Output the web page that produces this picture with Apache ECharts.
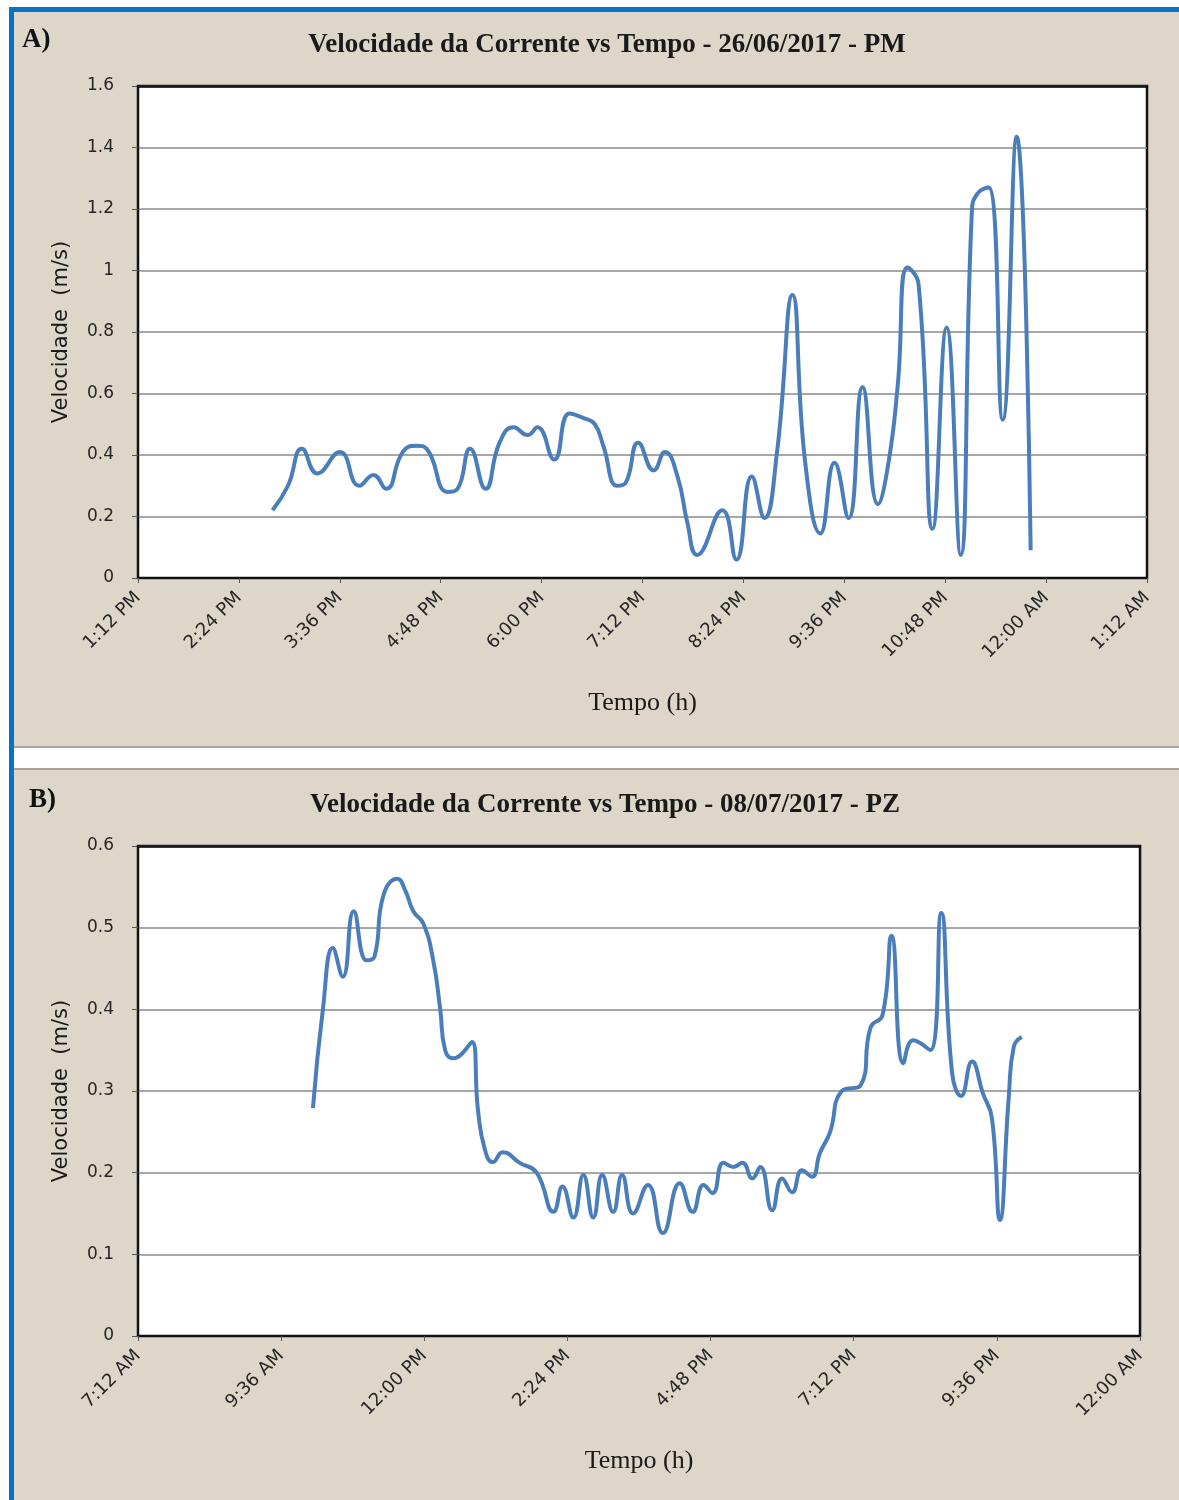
<!DOCTYPE html>
<html>
<head>
<meta charset="utf-8">
<script src="https://cdn.jsdelivr.net/npm/echarts@6/dist/echarts.min.js"></script>
<style>
  html, body { margin: 0; padding: 0; background: #ffffff; }
  #wrap { position: relative; width: 1179px; height: 1500px; overflow: hidden; }
  .bg { position: absolute; }
  #chart { position: absolute; left: 0; top: 0; width: 1179px; height: 1500px; }
</style>
</head>
<body>
<div id="wrap">
  <div class="bg" style="left:14px;top:12px;width:1165px;height:734px;background:#ddd6c9;border-bottom:2px solid #a9a49b;"></div>
  <div class="bg" style="left:14px;top:768px;width:1165px;height:732px;background:#ddd6c9;border-top:2px solid #a9a49b;"></div>
  <div class="bg" style="left:9px;top:7px;width:5px;height:1493px;background:#0a72c4;"></div>
  <div class="bg" style="left:9px;top:7px;width:1170px;height:5px;background:#0a72c4;"></div>
  <div id="chart"></div>
</div>
<script>
// ---- Data (time in minutes since midnight of the start day; speed in m/s) ----
const timesA = [888, 899, 909, 920, 936, 950, 960, 969, 981, 991, 998, 1013, 1020, 1029, 1040, 1050, 1060, 1070, 1077, 1089, 1100, 1110, 1118, 1124, 1134, 1140, 1149, 1160, 1168, 1177, 1184, 1191, 1209, 1219, 1230, 1239, 1248, 1259, 1268, 1279, 1289, 1299, 1309, 1320, 1327, 1334, 1341, 1349, 1359, 1369, 1379, 1387, 1391, 1399, 1409, 1419, 1429];
const speedsA = [0.22, 0.30, 0.42, 0.34, 0.41, 0.30, 0.335, 0.29, 0.41, 0.43, 0.42, 0.28, 0.29, 0.42, 0.29, 0.44, 0.49, 0.465, 0.49, 0.385, 0.535, 0.52, 0.50, 0.43, 0.30, 0.31, 0.44, 0.35, 0.41, 0.33, 0.18, 0.075, 0.22, 0.06, 0.33, 0.195, 0.41, 0.92, 0.38, 0.145, 0.375, 0.195, 0.62, 0.24, 0.36, 0.62, 1.01, 0.955, 0.16, 0.815, 0.075, 1.19, 1.25, 1.27, 0.515, 1.435, 0.09];

const timesB = [608, 618, 628, 638, 649, 662, 670, 679, 693, 701, 709, 719, 729, 736, 741, 749, 768, 774, 781, 789, 799, 816, 833, 850, 859, 870, 880, 890, 899, 910, 919, 930, 945, 960, 977, 990, 1001, 1010, 1021, 1031, 1040, 1050, 1058, 1070, 1080, 1090, 1100, 1110, 1118, 1128, 1140, 1159, 1169, 1181, 1190, 1202, 1212, 1229, 1240, 1251, 1260, 1271, 1282, 1291, 1299, 1308, 1313, 1321];
const speedsB = [0.279, 0.40, 0.475, 0.44, 0.52, 0.46, 0.465, 0.54, 0.56, 0.545, 0.52, 0.505, 0.46, 0.40, 0.35, 0.34, 0.36, 0.277, 0.228, 0.213, 0.225, 0.212, 0.20, 0.152, 0.183, 0.145, 0.197, 0.145, 0.197, 0.152, 0.197, 0.15, 0.185, 0.126, 0.187, 0.152, 0.185, 0.175, 0.212, 0.207, 0.212, 0.193, 0.207, 0.154, 0.193, 0.176, 0.203, 0.195, 0.224, 0.249, 0.30, 0.307, 0.378, 0.393, 0.49, 0.334, 0.362, 0.35, 0.518, 0.322, 0.294, 0.336, 0.297, 0.267, 0.142, 0.293, 0.354, 0.366];

const tickLabelsA = ['1:12 PM', '2:24 PM', '3:36 PM', '4:48 PM', '6:00 PM', '7:12 PM', '8:24 PM', '9:36 PM', '10:48 PM', '12:00 AM', '1:12 AM'];
const tickLabelsB = ['7:12 AM', '9:36 AM', '12:00 PM', '2:24 PM', '4:48 PM', '7:12 PM', '9:36 PM', '12:00 AM'];

const titleA = 'Velocidade da Corrente vs Tempo - 26/06/2017 - PM';
const titleB = 'Velocidade da Corrente vs Tempo - 08/07/2017 - PZ';
const yName = 'Velocidade  (m/s)';
const xName = 'Tempo (h)';

// ---- Chart ----
const xMinA = 792, xMaxA = 1512, xIntA = 72;
const xMinB = 432, xMaxB = 1440, xIntB = 144;

const chart = echarts.init(document.getElementById('chart'), null, { renderer: 'canvas' });

const serif = '"Liberation Serif", "Times New Roman", serif';
const sans = '"DejaVu Sans", Verdana, sans-serif';
const lineColor = '#4a7ebb';
const labelColor = '#262626';

function xAxisCfg(gridIndex, min, max, interval, labels) {
  return {
    type: 'value', gridIndex, min, max, interval,
    name: xName, nameLocation: 'middle', nameGap: 112,
    nameTextStyle: { fontFamily: serif, fontSize: 26, color: '#1a1a1a' },
    axisLine: { show: true, lineStyle: { color: '#111', width: 2 } },
    axisTick: { show: true, length: 5, lineStyle: { color: '#555', width: 1 } },
    splitLine: { show: false },
    axisLabel: {
      rotate: 45, margin: 17, fontFamily: sans, fontSize: 18, color: labelColor,
      formatter: v => labels[Math.round((v - min) / interval)]
    }
  };
}
function xTopCfg(gridIndex, min, max) {
  return {
    type: 'value', gridIndex, min, max, position: 'top', z: 5,
    axisLine: { show: true, lineStyle: { color: '#111', width: 2.5 } },
    axisTick: { show: false }, axisLabel: { show: false }, splitLine: { show: false }
  };
}
function yAxisCfg(gridIndex, max, interval) {
  return {
    type: 'value', gridIndex, min: 0, max, interval,
    name: yName, nameLocation: 'middle', nameGap: 66, nameRotate: 90,
    nameTextStyle: { fontFamily: sans, fontSize: 21, color: '#1a1a1a' },
    axisLine: { show: true, lineStyle: { color: '#111', width: 2 } },
    axisTick: { show: true, length: 6, lineStyle: { color: '#555', width: 1 } },
    splitLine: { show: true, lineStyle: { color: '#8a8a8a', width: 1.5 } },
    axisLabel: {
      margin: 24, fontFamily: sans, fontSize: 17, color: labelColor,
      formatter: v => String(Math.round(v * 10) / 10)
    }
  };
}

chart.setOption({
  backgroundColor: 'transparent',
  animation: false,
  title: [
    { text: titleA, left: 602, top: 27, textAlign: 'center',
      textStyle: { fontFamily: serif, fontWeight: 'bold', fontSize: 27, color: '#1a1a1a' } },
    { text: titleB, left: 600, top: 787, textAlign: 'center',
      textStyle: { fontFamily: serif, fontWeight: 'bold', fontSize: 27, color: '#1a1a1a' } },
    { text: 'A)', left: 17, top: 22,
      textStyle: { fontFamily: serif, fontWeight: 'bold', fontSize: 27, color: '#111' } },
    { text: 'B)', left: 24, top: 782,
      textStyle: { fontFamily: serif, fontWeight: 'bold', fontSize: 27, color: '#111' } }
  ],
  grid: [
    { left: 138, top: 86, width: 1009, height: 492, show: true, backgroundColor: '#ffffff', borderColor: '#111', borderWidth: 2.5 },
    { left: 138, top: 846, width: 1002, height: 490, show: true, backgroundColor: '#ffffff', borderColor: '#111', borderWidth: 2.5 }
  ],
  xAxis: [
    xAxisCfg(0, xMinA, xMaxA, xIntA, tickLabelsA),
    xAxisCfg(1, xMinB, xMaxB, xIntB, tickLabelsB),
    xTopCfg(0, xMinA, xMaxA),
    xTopCfg(1, xMinB, xMaxB)
  ],
  yAxis: [
    yAxisCfg(0, 1.6, 0.2),
    yAxisCfg(1, 0.6, 0.1)
  ],
  series: [
    { type: 'line', xAxisIndex: 0, yAxisIndex: 0, smooth: 0.5, showSymbol: false,
      lineStyle: { color: lineColor, width: 4 },
      data: timesA.map((t, i) => [t, speedsA[i]]) },
    { type: 'line', xAxisIndex: 1, yAxisIndex: 1, smooth: 0.5, showSymbol: false,
      lineStyle: { color: lineColor, width: 4 },
      data: timesB.map((t, i) => [t, speedsB[i]]) }
  ]
});
</script>
</body>
</html>
